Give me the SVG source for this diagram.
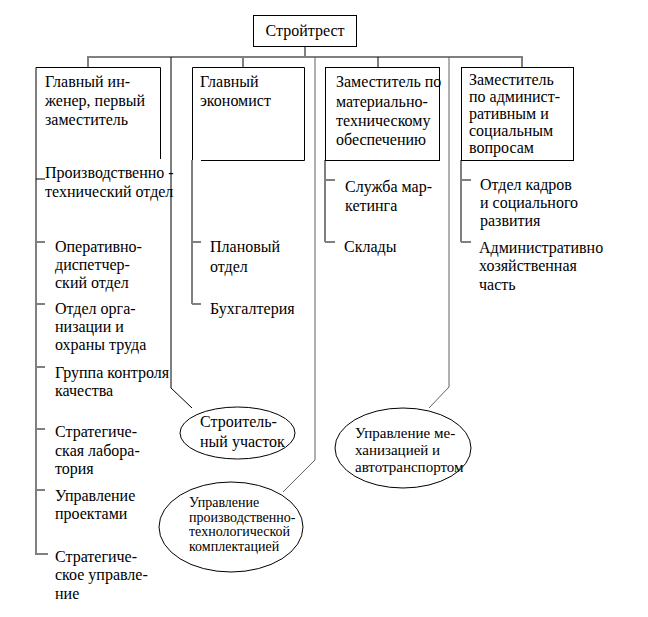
<svg xmlns="http://www.w3.org/2000/svg" width="648" height="617" viewBox="0 0 648 617">
<style>
.bg{fill:#ffffff}
.box{fill:none;stroke:#000000;stroke-width:1}
.con{fill:none;stroke:#808080;stroke-width:2}
.thin{fill:none;stroke:#000000;stroke-width:1}
.dg{fill:none;stroke:#606060;stroke-width:1}
text{font-family:"Liberation Serif","Times New Roman",serif;font-size:16px;fill:#000000}
.sm{font-size:14px}
.md{font-size:15px}
</style>
<rect class="bg" x="0" y="0" width="648" height="617"/>
<g id="connectors">
<line class="thin" x1="305" y1="46" x2="305" y2="57"/>
<line class="con" x1="87" y1="57" x2="523" y2="57"/>
<line class="con" x1="88" y1="57" x2="88" y2="67"/>
<line class="con" x1="243" y1="57" x2="243" y2="67"/>
<line class="thin" x1="378" y1="57" x2="378" y2="67"/>
<line class="con" x1="522" y1="57" x2="522" y2="67"/>
<polyline class="thin" points="171,57 171,388 192,408"/>
<polyline class="dg" points="315,57 315,460 283,492"/>
<polyline class="dg" points="449,57 449,387 429,408"/>
<polyline class="con" points="36,160 36,554 48,554"/>
<line class="thin" x1="36" y1="179" x2="45" y2="179"/>
<line class="con" x1="36" y1="242" x2="45" y2="242"/>
<line class="con" x1="36" y1="304" x2="45" y2="304"/>
<line class="con" x1="36" y1="367" x2="45" y2="367"/>
<line class="con" x1="36" y1="429" x2="45" y2="429"/>
<line class="con" x1="36" y1="490" x2="45" y2="490"/>
<polyline class="thin" points="192,160 192,304"/>
<line class="con" x1="192" y1="242" x2="201" y2="242"/>
<line class="con" x1="192" y1="304" x2="201" y2="304"/>
<polyline class="thin" points="325,160 325,242"/>
<line class="con" x1="325" y1="180" x2="335" y2="180"/>
<line class="con" x1="325" y1="242" x2="335" y2="242"/>
<polyline class="thin" points="461,160 461,242"/>
<line class="con" x1="461" y1="180" x2="471" y2="180"/>
<line class="con" x1="461" y1="242" x2="471" y2="242"/>
</g>
<g id="n-stroytrest">
<rect class="box" x="253.5" y="15.5" width="103" height="31"/>
<text x="305" y="36" text-anchor="middle">Стройтрест</text>
</g>
<g id="n-chief-engineer">
<path class="box" d="M36,160 L36,67.5 L160.5,67.5 L160.5,159"/>
<text x="45" y="87">Главный ин-</text>
<text x="45" y="106">женер, первый</text>
<text x="45" y="125">заместитель</text>
</g>
<g id="n-chief-economist">
<path class="box" d="M192.5,160 L192.5,67.5 L304.5,67.5 L304.5,160.5 L201,160.5"/>
<text x="200" y="87">Главный</text>
<text x="200" y="106">экономист</text>
</g>
<g id="n-deputy-mts">
<rect class="box" x="325.5" y="67.5" width="114" height="93"/>
<text x="336" y="87">Заместитель по</text>
<text x="336" y="107">материально-</text>
<text x="336" y="126">техническому</text>
<text x="336" y="145">обеспечению</text>
</g>
<g id="n-deputy-admin">
<rect class="box" x="461.5" y="67.5" width="112" height="93"/>
<text x="469" y="85">Заместитель</text>
<text x="469" y="102">по админист-</text>
<text x="469" y="119">ративным и</text>
<text x="469" y="136">социальным</text>
<text x="469" y="153">вопросам</text>
</g>
<g id="n-pto">
<text x="45" y="178">Производственно -</text>
<text x="45" y="197">технический отдел</text>
</g>
<g id="n-odo">
<text x="55" y="252">Оперативно-</text>
<text x="55" y="270">диспетчер-</text>
<text x="55" y="288">ский отдел</text>
</g>
<g id="n-oot">
<text x="55" y="314">Отдел орга-</text>
<text x="55" y="332">низации и</text>
<text x="55" y="350">охраны труда</text>
</g>
<g id="n-gkk">
<text x="55" y="378">Группа контроля</text>
<text x="55" y="396">качества</text>
</g>
<g id="n-strat-lab">
<text x="55" y="437">Стратегиче-</text>
<text x="55" y="456">ская лабора-</text>
<text x="55" y="474">тория</text>
</g>
<g id="n-projects">
<text x="55" y="501">Управление</text>
<text x="55" y="519">проектами</text>
</g>
<g id="n-strat-mgmt">
<text x="55" y="562">Стратегиче-</text>
<text x="55" y="580">ское управле-</text>
<text x="55" y="599">ние</text>
</g>
<g id="n-plan">
<text x="210" y="252">Плановый</text>
<text x="210" y="272">отдел</text>
</g>
<g id="n-buh">
<text x="210" y="314">Бухгалтерия</text>
</g>
<g id="n-marketing">
<text x="345" y="192">Служба мар-</text>
<text x="345" y="211">кетинга</text>
</g>
<g id="n-sklady">
<text x="344" y="252">Склады</text>
</g>
<g id="n-kadry">
<text x="480" y="190">Отдел кадров</text>
<text x="480" y="208">и социального</text>
<text x="480" y="226">развития</text>
</g>
<g id="n-ahch">
<text x="479" y="253">Административно</text>
<text x="479" y="271">хозяйственная</text>
<text x="479" y="290">часть</text>
</g>
<g id="n-su">
<ellipse class="box" cx="237.5" cy="433" rx="57.5" ry="26"/>
<text x="200" y="427">Строитель-</text>
<text x="200" y="447">ный участок</text>
</g>
<g id="n-uptk">
<ellipse class="box" cx="231" cy="527" rx="72" ry="45"/>
<text class="sm" x="189" y="507">Управление</text>
<text class="sm" x="189" y="522">производственно-</text>
<text class="sm" x="189" y="536">технологической</text>
<text class="sm" x="189" y="551">комплектацией</text>
</g>
<g id="n-umat">
<ellipse class="box" cx="403" cy="448" rx="68" ry="40"/>
<text class="md" x="355" y="438">Управление ме-</text>
<text class="md" x="355" y="455">ханизацией и</text>
<text class="md" x="355" y="472">автотранспортом</text>
</g>
</svg>
